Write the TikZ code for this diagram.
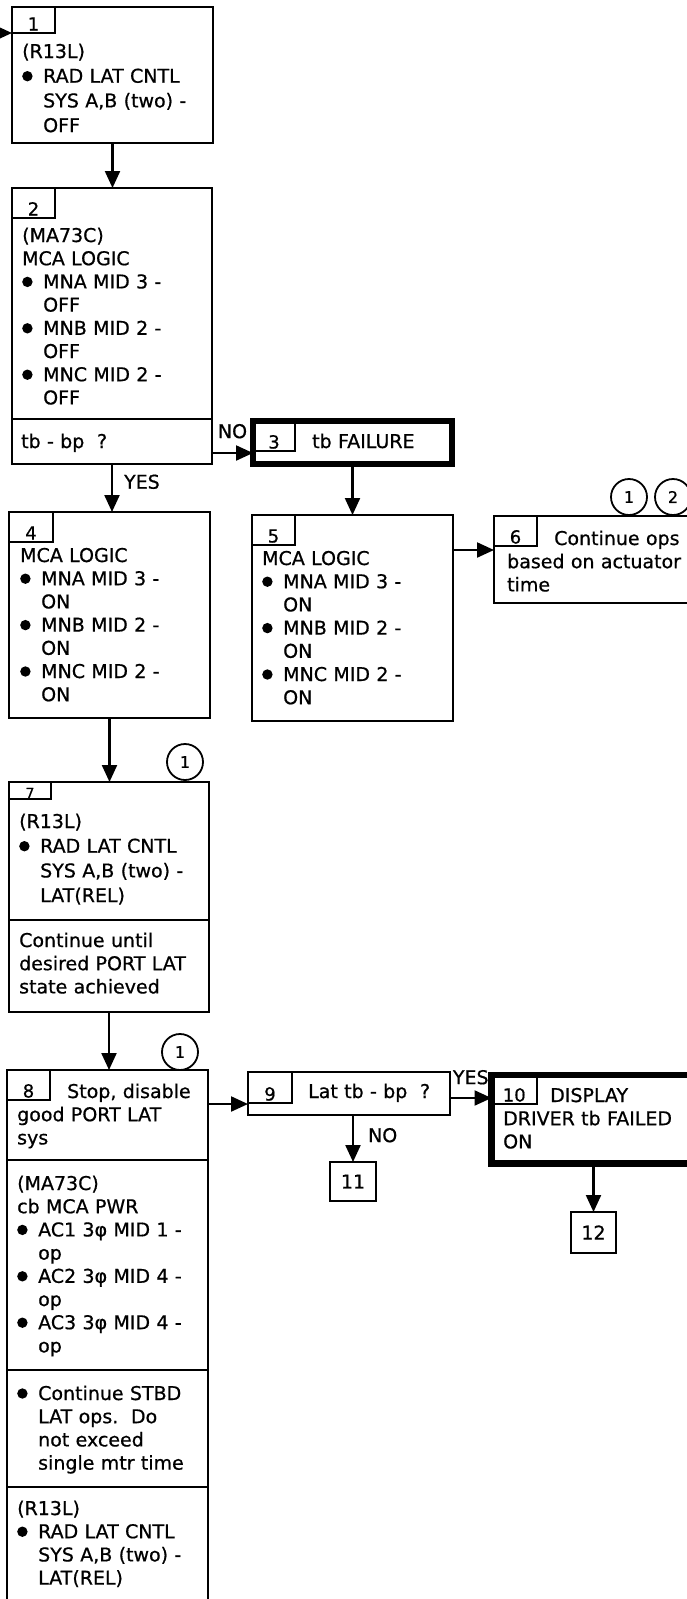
\documentclass[tikz,border=0pt]{standalone}
\usepackage{fontspec}
\setmainfont{DejaVu Sans}[RawFeature={embolden=0.7}]
\usetikzlibrary{arrows.meta}
\newcommand{\bulit}{\makebox[21pt][l]{\tikz[baseline=0pt]\fill (5.2pt,6.5pt) circle (5.2pt);}}
\newcommand{\indt}{\hspace*{21pt}}

\begin{document}
\begin{tikzpicture}[x=1pt,y=-1pt,font=\fontsize{19}{23.2}\selectfont,>={Triangle[length=17pt,width=15pt]},
  box/.style={draw,line width=2.2pt,anchor=north west,inner sep=0pt,outer sep=0pt},
  heavy/.style={box,line width=6.5pt},
  tab/.style={draw,line width=2pt,anchor=north west,inner xsep=0pt,inner ysep=2.5pt,outer sep=0pt,
    minimum width=43pt,text depth=0pt,text height=#1,font=\fontsize{18}{18}\selectfont},
  txt/.style={anchor=base west,inner sep=0pt,text width=210pt,align=left},
  loose/.style={txt,font=\fontsize{19}{24.7}\selectfont},
  conn/.style={->,line width=2.2pt},
  lbl/.style={inner sep=0pt},
  refc/.style={draw,circle,line width=1.8pt,minimum size=36pt,inner sep=0pt,font=\fontsize{16}{16}\selectfont}]
  \path[use as bounding box,fill=white] (0,0) rectangle (686,1599);

  \node[box,minimum width=201pt,minimum height=136pt] (b1) at (12,7) {};
  \node[tab=21pt] (t1) at (b1.north west) {1};
  \node[loose] (x1) at (22,58) {(R13L)\\\bulit RAD LAT CNTL\\\indt SYS A,B (two) -\\\indt OFF};

  \node[box,minimum width=200pt,minimum height=231pt] (b2) at (12,188) {};
  \node[box,minimum width=200pt,minimum height=45pt] (b2q) at (12,419) {};
  \node[tab=25pt] (t2) at (b2.north west) {2};
  \node[txt] (x2) at (22,242) {(MA73C)\\MCA LOGIC\\\bulit MNA MID 3 -\\\indt OFF\\
    \bulit MNB MID 2 -\\\indt OFF\\\bulit MNC MID 2 -\\\indt OFF};
  \node[txt] (x2q) at (21,448) {tb - bp\ \ ?};

  \node[heavy,minimum width=199pt,minimum height=43pt] (b3) at (253,421) {};
  \node[tab=25pt,minimum width=42pt] (t3) at (b3.north west) {3};
  \node[txt] (x3) at (312,448) {tb FAILURE};

  \node[box,minimum width=201pt,minimum height=206pt] (b4) at (9,512) {};
  \node[tab=25pt,minimum width=44pt] (t4) at (b4.north west) {4};
  \node[txt] (x4) at (20,562) {MCA LOGIC\\\bulit MNA MID 3 -\\\indt ON\\
    \bulit MNB MID 2 -\\\indt ON\\\bulit MNC MID 2 -\\\indt ON};

  \node[box,minimum width=201pt,minimum height=206pt] (b5) at (252,515) {};
  \node[tab=25pt] (t5) at (b5.north west) {5};
  \node[txt] (x5) at (262,565) {MCA LOGIC\\\bulit MNA MID 3 -\\\indt ON\\
    \bulit MNB MID 2 -\\\indt ON\\\bulit MNC MID 2 -\\\indt ON};

  \node[box,minimum width=220pt,minimum height=87pt] (b6) at (494,516) {};
  \node[tab=25pt] (t6) at (b6.north west) {6};
  \node[txt] (x6) at (507,545) {\hspace*{47pt}Continue ops\\based on actuator\\time};
  \node[refc] (c61) at (629,497) {1};
  \node[refc] (c62) at (673,497) {2};

  \node[box,minimum width=200pt,minimum height=138pt] (b7) at (9,782) {};
  \node[box,minimum width=200pt,minimum height=92pt] (b7q) at (9,920) {};
  \node[tab=15pt,minimum width=42pt,inner ysep=1pt,font=\fontsize{14}{14}\selectfont] (t7) at (b7.north west) {7};
  \node[loose] (x7) at (19,828) {(R13L)\\\bulit RAD LAT CNTL\\\indt SYS A,B (two) -\\\indt LAT(REL)};
  \node[txt] (x7q) at (19,947) {Continue until\\desired PORT LAT\\state achieved};
  \node[refc] (c7) at (185,762) {1};

  \node[box,minimum width=201pt,minimum height=90pt] (b8a) at (7,1070) {};
  \node[box,minimum width=201pt,minimum height=210pt] (b8b) at (7,1160) {};
  \node[box,minimum width=201pt,minimum height=117pt] (b8c) at (7,1370) {};
  \node[box,minimum width=201pt,minimum height=125pt] (b8d) at (7,1487) {};
  \node[tab=25pt] (t8) at (b8a.north west) {8};
  \node[txt] (x8a) at (17,1098) {\hspace*{50pt}Stop, disable\\good PORT LAT\\sys};
  \node[txt] (x8b) at (17,1190) {(MA73C)\\cb MCA PWR\\\bulit AC1 3φ MID 1 -\\\indt op\\
    \bulit AC2 3φ MID 4 -\\\indt op\\\bulit AC3 3φ MID 4 -\\\indt op};
  \node[txt] (x8c) at (17,1400) {\bulit Continue STBD\\\indt LAT ops.\ \ Do\\\indt not exceed\\\indt single mtr time};
  \node[txt] (x8d) at (17,1515) {(R13L)\\\bulit RAD LAT CNTL\\\indt SYS A,B (two) -\\\indt LAT(REL)};
  \node[refc] (c8) at (180,1052) {1};

  \node[box,minimum width=202pt,minimum height=43pt] (b9) at (248,1072) {};
  \node[tab=26pt,minimum width=44pt] (t9) at (b9.north west) {9};
  \node[txt] (x9) at (308,1098) {Lat tb - bp\ \ ?};

  \node[heavy,minimum width=220pt,minimum height=88.5pt] (b10) at (491.5,1075) {};
  \node[tab=24pt,minimum width=45.5pt] (t10) at (b10.north west) {10};
  \node[txt] (x10) at (503,1102) {\hspace*{47pt}DISPLAY\\DRIVER tb FAILED\\ON};

  \node[box,minimum width=46pt,minimum height=39pt] (b11) at (330,1162) {11};
  \node[box,minimum width=45pt,minimum height=41pt] (b12) at (571,1212) {12};

  \coordinate (in) at (0,33);
  \draw[conn] (in) -- (in -| b1.west);
  \draw[conn] (b1.south) -- (b1.south |- b2.north);
  \draw[conn] (b2q.south) -- (b2q.south |- b4.north) node[lbl,pos=.37,right=11pt] (yes1) {YES};
  \draw[conn] (b2q.east |- 0,453) -- (b3.west |- 0,453) node[lbl,midway,above=13.5pt] (no1) {NO};
  \draw[conn] (b3.south) -- (b3.south |- b5.north);
  \draw[conn] (b5.east |- 0,550) -- (b6.west |- 0,550);
  \draw[conn] (b4.south) -- (b4.south |- b7.north);
  \draw[conn] (b7q.south) -- (b7q.south |- b8a.north);
  \draw[conn] (b8a.east |- 0,1104) -- (b9.west |- 0,1104);
  \draw[conn] (b9.east |- 0,1098) -- (b10.west |- 0,1098) node[lbl,midway,above=12.5pt] (yes2) {YES};
  \draw[conn] (b11.north |- b9.south) -- (b11.north) node[lbl,pos=.43,right=14pt] (no2) {NO};
  \draw[conn] (b12.north |- b10.south) -- (b12.north);
\end{tikzpicture}
\end{document}
